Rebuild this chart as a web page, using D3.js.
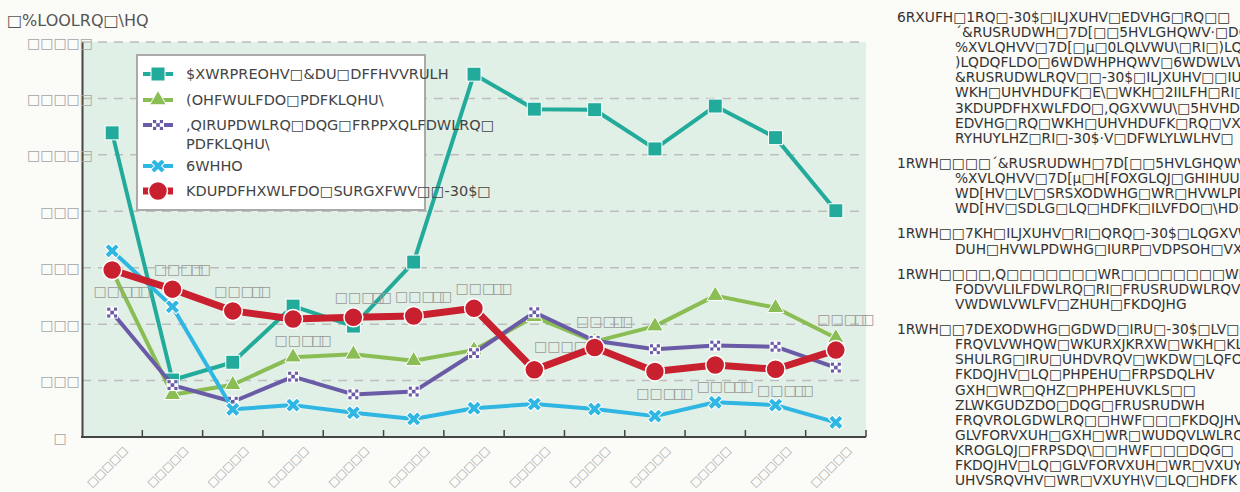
<!DOCTYPE html>
<html>
<head>
<meta charset="utf-8">
<script src="https://cdn.jsdelivr.net/npm/d3@7"></script>
<style>
    body { margin: 0; background: #fbfbf8; overflow: hidden; }
    svg text { font-family: 'DejaVu Sans', sans-serif; }
</style>
</head>
<body>
<svg id="chart" width="1240" height="492"></svg>
<script>

// Categories (fiscal years, the reference shows them as empty boxes)
const categories = ['01', '02', '03', '04', '05', '06', '07', '08', '09', '10', '11', '12', '13'];
const categoryLabels = ['□□□□□', '□□□□□', '□□□□□', '□□□□□', '□□□□□', '□□□□□', '□□□□□',
                        '□□□□□', '□□□□□', '□□□□□', '□□□□□', '□□□□□', '□□□□□'];

// Y axis ticks
const yTicks = [0, 200, 400, 600, 800, 1000, 1200, 1400];
const yTickLabels = ['□', '□□□', '□□□', '□□□', '□□□', '□□□□□', '□□□□□', '□□□□□'];

// Series values (billion yen)
const automobiles = [1078, 202, 265, 464, 393, 620, 1286, 1162, 1160, 1021, 1173, 1061, 802];
const electrical  = [590, 150, 185, 283, 293, 270, 308, 426, 338, 393, 501, 458, 351];
const information = [441, 184, 125, 214, 151, 161, 297, 442, 341, 311, 324, 320, 246];
const steel       = [660, 462, 98, 113, 86, 64, 102, 117, 99, 74, 123, 113, 52];
const pharma      = [592, 524, 447, 418, 424, 429, 456, 238, 317, 232, 255, 240, 308];
const pharmaLabels = ['□□□□□', '□□□□□', '□□□□□', '□□□□□', '□□□□□', '□□□□□', '□□□□□',
                      '□□□□□□', '□□□□□', '□□□□□', '□□□□□', '□□□□□', '□□□□□'];

// Legend texts, as they show in the reference
const legendLabels = [
    ['$XWRPREOHV□&DU□DFFHVVRULH'],
    ['(OHFWULFDO□PDFKLQHU\\'],
    [',QIRUPDWLRQ□DQG□FRPPXQLFDWLRQ□', 'PDFKLQHU\\'],
    ['6WHHO'],
    ['KDUPDFHXWLFDO□SURGXFWV□□-30$□']
];

const yTitle = '□%LOOLRQ□\\HQ';

// Source and notes on the right
const notes = [
    ['6RXUFH□1RQ□-30$□ILJXUHV□EDVHG□RQ□□', '´&RUSRUDWH□7D[□□5HVLGHQWV·□DQG', '%XVLQHVV□7D[□µ□0LQLVWU\\□RI□)LQDQFH',
     ')LQDQFLDO□6WDWHPHQWV□6WDWLVWLFV', '&RUSRUDWLRQV□□-30$□ILJXUHV□□IURP', 'WKH□UHVHDUFK□E\\□WKH□2IILFH□RI□',
     '3KDUPDFHXWLFDO□,QGXVWU\\□5HVHDUFK', 'EDVHG□RQ□WKH□UHVHDUFK□RQ□VXUYH\\', 'RYHUYLHZ□RI□-30$·V□DFWLYLWLHV□'],
    ['1RWH□□□□´&RUSRUDWH□7D[□□5HVLGHQWV·', '%XVLQHVV□7D[µ□H[FOXGLQJ□GHIHUUHG', 'WD[HV□LV□SRSXODWHG□WR□HVWLPDWH',
     'WD[HV□SDLG□LQ□HDFK□ILVFDO□\\HDU'],
    ['1RWH□□7KH□ILJXUHV□RI□QRQ□-30$□LQGXVWULHV', 'DUH□HVWLPDWHG□IURP□VDPSOH□VXUYH\\'],
    ['1RWH□□□□,Q□□□□□□□WR□□□□□□□□WKH□LQGXVWU\\', 'FODVVLILFDWLRQ□RI□FRUSRUDWLRQV', 'VWDWLVWLFV□ZHUH□FKDQJHG'],
    ['1RWH□□7DEXODWHG□GDWD□IRU□-30$□LV□GLV', 'FRQVLVWHQW□WKURXJKRXW□WKH□KLVWRULFDO', 'SHULRG□IRU□UHDVRQV□WKDW□LQFOXGH',
     'FKDQJHV□LQ□PHPEHU□FRPSDQLHV', 'GXH□WR□QHZ□PHPEHUVKLS□□', 'ZLWKGUDZDO□DQG□FRUSRUDWH',
     'FRQVROLGDWLRQ□□HWF□□□FKDQJHV', 'GLVFORVXUH□GXH□WR□WUDQVLWLRQ', 'KROGLQJ□FRPSDQ\\□□HWF□□□DQG□',
     'FKDQJHV□LQ□GLVFORVXUH□WR□VXUYH\\', 'UHVSRQVHV□WR□VXUYH\\V□LQ□HDFK']
];


// Plot frame
const plot = {left: 82, right: 866, top: 42, bottom: 437};

const svg = d3.select('#chart');

const x = d3.scaleBand().domain(categories).range([plot.left, plot.right]);
const y = d3.scaleLinear().domain([0, 1400]).range([plot.bottom, plot.top]);
const cx = c => x(c) + x.bandwidth() / 2;

// Plot background
svg.append('rect')
    .attr('x', plot.left).attr('y', plot.top)
    .attr('width', plot.right - plot.left).attr('height', plot.bottom - plot.top)
    .attr('fill', '#e1f0e6');

// Dashed grid lines
svg.append('g').selectAll('line')
    .data(yTicks.filter(d => d > 0))
    .join('line')
    .attr('x1', plot.left).attr('x2', plot.right)
    .attr('y1', d => y(d)).attr('y2', d => y(d))
    .attr('stroke', '#bdbdbd').attr('stroke-width', 1.5)
    .attr('stroke-dasharray', '9,7');

// Y axis
const yAxis = svg.append('g')
    .attr('transform', `translate(${plot.left},0)`)
    .call(d3.axisLeft(y).tickValues(yTicks).tickSize(0).tickFormat((d, i) => yTickLabels[i]));
yAxis.select('.domain').attr('stroke', '#444').attr('stroke-width', 2);
yAxis.selectAll('text')
    .attr('text-anchor', 'middle').attr('x', -22).attr('dy', '0.36em')
    .attr('fill', '#a4a4a4').style('font-size', '14px');

// X axis: line, ticks on band edges, rotated labels
const xAxis = svg.append('g');
xAxis.append('line')
    .attr('x1', plot.left - 1).attr('x2', plot.right)
    .attr('y1', plot.bottom).attr('y2', plot.bottom)
    .attr('stroke', '#444').attr('stroke-width', 2);
xAxis.selectAll('.tick')
    .data(categories.slice(1).map(c => x(c)).concat([plot.right]))
    .join('line')
    .attr('class', 'tick')
    .attr('x1', d => d).attr('x2', d => d)
    .attr('y1', plot.bottom).attr('y2', plot.bottom - 7)
    .attr('stroke', '#444').attr('stroke-width', 1.5);
xAxis.selectAll('text')
    .data(categories)
    .join('text')
    .attr('transform', c => `translate(${cx(c) + 16},${plot.bottom + 14}) rotate(-45)`)
    .attr('text-anchor', 'end')
    .attr('fill', '#a4a4a4').style('font-size', '11px')
    .text((c, i) => categoryLabels[i]);

// Y axis title
svg.append('text')
    .attr('x', 7).attr('y', 26)
    .attr('fill', '#555').style('font-size', '16px')
    .text(yTitle);


// Marker drawing functions
function drawSquare(g, color, s = 14){
    g.append('rect')
        .attr('x', -s / 2).attr('y', -s / 2).attr('width', s).attr('height', s)
        .attr('fill', color).attr('stroke', '#fff').attr('stroke-width', 1);
}
function drawTriangle(g, color){
    g.append('path')
        .attr('d', d3.symbol(d3.symbolTriangle, 120)())
        .attr('fill', color).attr('stroke', '#fff').attr('stroke-width', 1);
}
function drawChecker(g, color){
    const s = 11, c = s / 3;
    g.append('rect')
        .attr('x', -s / 2).attr('y', -s / 2).attr('width', s).attr('height', s)
        .attr('fill', color).attr('stroke', '#fff').attr('stroke-width', 1);
    [[1, 0], [0, 1], [2, 1], [1, 2]].forEach(([i, j]) => {
        g.append('rect')
            .attr('x', -s / 2 + i * c).attr('y', -s / 2 + j * c)
            .attr('width', c).attr('height', c)
            .attr('fill', '#fff');
    });
}
function drawCross(g, color){
    g.append('path')
        .attr('d', d3.symbol(d3.symbolCross, 130)())
        .attr('transform', 'rotate(45)')
        .attr('fill', color).attr('stroke', '#fff').attr('stroke-width', 1);
}
function drawCircle(g, color){
    g.append('circle')
        .attr('r', 9.5)
        .attr('fill', color).attr('stroke', '#fff').attr('stroke-width', 1.5);
}

const series = [
    {values: automobiles, color: '#22ab9b', width: 4, marker: drawSquare},
    {values: electrical,  color: '#8bbd55', width: 4, marker: drawTriangle},
    {values: information, color: '#6a5ba6', width: 4, marker: drawChecker},
    {values: steel,       color: '#2fb6e2', width: 4, marker: drawCross},
    {values: pharma,      color: '#c8202e', width: 7, marker: drawCircle}
];

const line = d3.line().x((d, i) => cx(categories[i])).y(d => y(d));


// Labels for the pharmaceutical series (side: 1 below, -1 above)
const labelSide = [1, -1, -1, 1, -1, -1, -1, -1, -1, 1, 1, 1, -1];
const labelNudge = {7: [25, -4], 8: [0, -7], 12: [0, -11]};

function drawPharmaLabels(){
    const labels = svg.append('g').selectAll('text')
        .data(pharma)
        .join('text')
        .attr('x', (d, i) => cx(categories[i]) + 7 + (labelNudge[i] ? labelNudge[i][0] : 0))
        .attr('y', (d, i) => y(d) + (labelSide[i] > 0 ? 21 : -20) + (labelNudge[i] ? labelNudge[i][1] : 0))
        .attr('dy', '0.36em')
        .attr('text-anchor', 'middle')
        .attr('fill', '#9a9a9a').style('font-size', '14px');
    // The last two boxes of each label sit on top of each other
    labels.append('tspan')
        .text((d, i) => pharmaLabels[i].slice(0, -2));
    labels.append('tspan')
        .attr('dx', -3)
        .style('letter-spacing', '-6px')
        .text((d, i) => pharmaLabels[i].slice(-2));
}

// Draw series
series.forEach((s, k) => {
    if(k === series.length - 1){
        drawPharmaLabels();
    }
    svg.append('path')
        .attr('d', line(s.values))
        .attr('fill', 'none')
        .attr('stroke', s.color)
        .attr('stroke-width', s.width)
        .attr('stroke-linejoin', 'round');
    s.values.forEach((v, i) => {
        const g = svg.append('g').attr('transform', `translate(${cx(categories[i])},${y(v)})`);
        s.marker(g, s.color);
    });
});


// Legend
const legend = svg.append('g');
legend.append('rect')
    .attr('x', 137).attr('y', 55).attr('width', 288).attr('height', 155)
    .attr('fill', '#fff').attr('stroke', '#aaa').attr('stroke-width', 2);

const legendRows = [74, 100, 125, 166, 191];
series.forEach((s, k) => {
    const row = legendRows[k];
    legend.append('line')
        .attr('x1', 143).attr('x2', 173).attr('y1', row).attr('y2', row)
        .attr('stroke', s.color).attr('stroke-width', s.width);
    const g = legend.append('g').attr('transform', `translate(158,${row})`);
    s.marker(g, s.color);
    legendLabels[k].forEach((t, j) => {
        legend.append('text')
            .attr('x', 186).attr('y', row + j * 19).attr('dy', '0.36em')
            .attr('fill', '#444').style('font-size', '14.5px')
            .text(t);
    });
});


// Source and notes block
const notesBlock = svg.append('g');
const lineStep = 15.1, groupGap = 25.2;
let lineY = 17;
notes.forEach((group, k) => {
    if(k > 0){
        lineY += groupGap - lineStep;
    }
    group.forEach((t, j) => {
        notesBlock.append('text')
            .attr('x', j === 0 ? 897 : 955).attr('y', lineY).attr('dy', '0.36em')
            .attr('fill', '#333').style('font-size', '13.8px')
            .text(t);
        lineY += lineStep;
    });
});

</script>
</body>
</html>
